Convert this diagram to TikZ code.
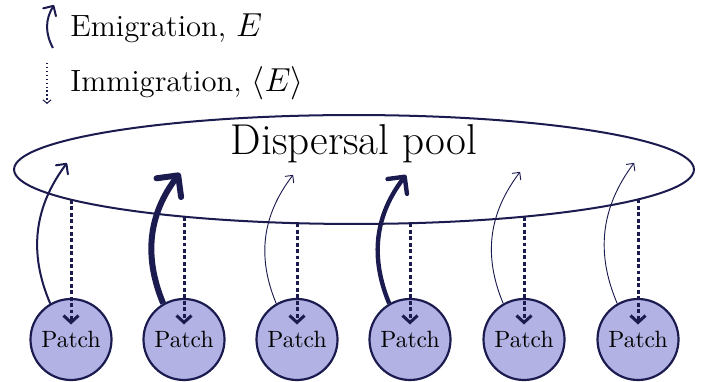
\documentclass[tikz,border=0pt]{standalone}
\usepackage{amsmath}
\usetikzlibrary{shapes,positioning,calc,arrows.meta}
\definecolor{poolnavy}{RGB}{27,27,80}
\definecolor{patchfill}{RGB}{178,178,228}

\begin{document}
\begin{tikzpicture}[x=0.4333pt, y=0.4333pt]
        % Styles for the pool, the patches and the two kinds of flow
        \tikzset{
            pool/.style={ellipse, draw=poolnavy, line width=0.87pt,
                minimum width=294.6pt, minimum height=47.2pt, inner sep=0},
            patch/.style={circle, draw=poolnavy, fill=patchfill, line width=0.95pt,
                minimum size=35.1pt, inner sep=0, font=\fontsize{10.2pt}{12pt}\selectfont},
            emig/.style={draw=poolnavy, -{Straight Barb[round]}, bend left=30},
            immig/.style={draw=poolnavy, line width=1.3pt, dash pattern=on 1.7pt off 1.1pt,
                -{Straight Barb[length=3pt, width=6.5pt]}},
            immiglegend/.style={draw=poolnavy, line width=0.45pt, dash pattern=on 0.6pt off 1.1pt,
                -{Straight Barb[length=1.5pt, width=3.5pt]}},
            legend/.style={inner sep=0, font=\fontsize{13.3pt}{16pt}\selectfont},
        }

        \useasboundingbox (0,0) rectangle (703,381);

        % Dispersal pool
        \node[pool] (pool) at (354,211.5) {};
        \node[inner sep=0, anchor=base, font=\fontsize{18.7pt}{22pt}\selectfont] (poollabel)
            at (354,226) {Dispersal pool};

        % Patches with emigration and immigration
        \foreach \i/\x/\ye/\w in {1/71/218/0.87, 2/184/208/2.6, 3/297/206/0.4,
                                  4/410/206/1.9, 5/524/209/0.4, 6/638/218/0.4} {
            \node[patch] (p\i) at (\x,41.5) {Patch};
            \pgfmathsetmacro{\ys}{211.5-54.5*sqrt(1-((\x-354)/340)^2)}
            \coordinate (s\i) at (\x,\ys);
            \coordinate (e\i) at (\x-4,\ye);
            \draw[immig, shorten >=6.5pt] (s\i) -- (p\i.center);
            \draw[emig, line width=\w pt] (p\i.120) to (e\i);
        }

        % Legend
        \coordinate (emA) at (53,333);
        \coordinate (emB) at (54,376);
        \draw[emig, line width=0.87pt] (emA) to (emB);
        \node[legend, anchor=base west] (emlabel) at (70,344) {Emigration, $E$};

        \coordinate (imA) at (47,318);
        \coordinate (imB) at (47,277);
        \draw[immiglegend] (imA) -- (imB);
        \node[legend, anchor=base west] (imlabel) at (70,289) {Immigration, $\langle E\rangle$};
\end{tikzpicture}
\end{document}
